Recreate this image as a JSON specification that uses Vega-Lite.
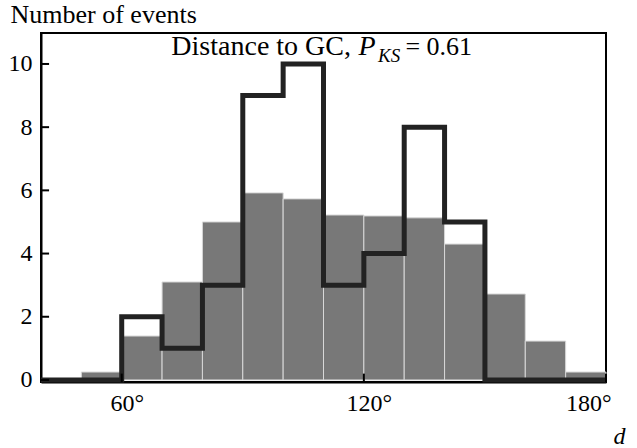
{
  "$schema": "https://vega.github.io/schema/vega-lite/v6.json",
  "width": 565,
  "height": 349,
  "autosize": "none",
  "padding": {"left": 41, "top": 33, "right": 31, "bottom": 66},
  "background": "white",
  "config": {
    "view": {"stroke": "black", "strokeWidth": 2},
    "font": "Liberation Serif",
    "text": {"font": "Liberation Serif", "color": "black"},
    "axis": {
      "grid": false,
      "ticks": false,
      "zindex": 1,
      "domainColor": "black",
      "domainWidth": 2,
      "labelFont": "Liberation Serif",
      "labelFontSize": 24,
      "labelColor": "black",
      "titleFont": "Liberation Serif",
      "titleColor": "black",
      "titleFontWeight": "normal"
    }
  },
  "datasets": {
    "model": [
      {"lo": 50, "hi": 60, "n": 0.25},
      {"lo": 60, "hi": 70, "n": 1.39},
      {"lo": 70, "hi": 80, "n": 3.1},
      {"lo": 80, "hi": 90, "n": 5.0},
      {"lo": 90, "hi": 100, "n": 5.92},
      {"lo": 100, "hi": 110, "n": 5.73},
      {"lo": 110, "hi": 120, "n": 5.22},
      {"lo": 120, "hi": 130, "n": 5.19},
      {"lo": 130, "hi": 140, "n": 5.13},
      {"lo": 140, "hi": 150, "n": 4.3},
      {"lo": 150, "hi": 160, "n": 2.72},
      {"lo": 160, "hi": 170, "n": 1.23},
      {"lo": 170, "hi": 180, "n": 0.25}
    ],
    "observed": [
      {"d": 40, "n": 0},
      {"d": 60, "n": 2},
      {"d": 70, "n": 1},
      {"d": 80, "n": 3},
      {"d": 90, "n": 9},
      {"d": 100, "n": 10},
      {"d": 110, "n": 3},
      {"d": 120, "n": 4},
      {"d": 130, "n": 8},
      {"d": 140, "n": 5},
      {"d": 150, "n": 0},
      {"d": 180, "n": 0}
    ],
    "yticks": [{"v": 0}, {"v": 2}, {"v": 4}, {"v": 6}, {"v": 8}, {"v": 10}],
    "xticks": [{"v": 60}, {"v": 120}, {"v": 180}],
    "plain": [
      {"x": 72.3, "y": 10.28, "t": "Distance to GC,"}
    ],
    "eq": [
      {"x": 130.3, "y": 10.28, "t": "= 0.61"}
    ],
    "italicP": [
      {"x": 118.7, "y": 10.28, "t": "P"}
    ],
    "italicSub": [
      {"x": 123.5, "y": 10.05, "t": "KS"}
    ]
  },
  "layer": [
    {
      "data": {"name": "model"},
      "mark": {"type": "bar", "color": "#787878", "stroke": "#d8d8d8", "strokeWidth": 1},
      "encoding": {
        "x": {
          "field": "lo", "type": "quantitative",
          "scale": {"domain": [40, 180], "nice": false, "zero": false},
          "axis": {
            "values": [60, 120, 180],
            "labelExpr": "datum.value + '°'",
            "labelPadding": 28,
            "labelBaseline": "alphabetic",
            "labelOffset": 5,
            "title": "d",
            "titleFontStyle": "italic",
            "titleFontSize": 24,
            "titleAlign": "center",
            "titleBaseline": "alphabetic",
            "titleX": 578,
            "titleY": 61
          }
        },
        "x2": {"field": "hi"},
        "y": {
          "field": "n", "type": "quantitative",
          "scale": {"domain": [-0.065, 10.98], "nice": false, "zero": false},
          "axis": {
            "values": [0, 2, 4, 6, 8, 10],
            "labelPadding": 9,
            "title": "Number of events",
            "titleAngle": 0,
            "titleFontSize": 26,
            "titleAlign": "left",
            "titleBaseline": "alphabetic",
            "titleX": -31,
            "titleY": -11
          }
        },
        "y2": {"datum": 0}
      }
    },
    {
      "data": {"name": "observed"},
      "mark": {"type": "line", "interpolate": "step-after", "color": "#222222", "strokeWidth": 5},
      "encoding": {
        "x": {"field": "d", "type": "quantitative"},
        "y": {"field": "n", "type": "quantitative"}
      }
    },
    {
      "data": {"name": "yticks"},
      "mark": {"type": "rule", "color": "black", "strokeWidth": 2},
      "encoding": {
        "y": {"field": "v", "type": "quantitative"},
        "x": {"datum": 40},
        "x2": {"datum": 42}
      }
    },
    {
      "data": {"name": "xticks"},
      "mark": {"type": "rule", "color": "black", "strokeWidth": 2},
      "encoding": {
        "x": {"field": "v", "type": "quantitative"},
        "y": {"datum": -0.065},
        "y2": {"datum": 0.2}
      }
    },
    {
      "data": {"name": "plain"},
      "mark": {"type": "text", "align": "left", "baseline": "alphabetic", "font": "Liberation Serif", "fontSize": 28, "color": "black"},
      "encoding": {
        "x": {"field": "x", "type": "quantitative"},
        "y": {"field": "y", "type": "quantitative"},
        "text": {"field": "t"}
      }
    },
    {
      "data": {"name": "eq"},
      "mark": {"type": "text", "align": "left", "baseline": "alphabetic", "font": "Liberation Serif", "fontSize": 26, "color": "black"},
      "encoding": {
        "x": {"field": "x", "type": "quantitative"},
        "y": {"field": "y", "type": "quantitative"},
        "text": {"field": "t"}
      }
    },
    {
      "data": {"name": "italicP"},
      "mark": {"type": "text", "align": "left", "baseline": "alphabetic", "font": "Liberation Serif", "fontStyle": "italic", "fontSize": 28, "color": "black"},
      "encoding": {
        "x": {"field": "x", "type": "quantitative"},
        "y": {"field": "y", "type": "quantitative"},
        "text": {"field": "t"}
      }
    },
    {
      "data": {"name": "italicSub"},
      "mark": {"type": "text", "align": "left", "baseline": "alphabetic", "font": "Liberation Serif", "fontStyle": "italic", "fontSize": 19, "color": "black"},
      "encoding": {
        "x": {"field": "x", "type": "quantitative"},
        "y": {"field": "y", "type": "quantitative"},
        "text": {"field": "t"}
      }
    }
  ]
}
